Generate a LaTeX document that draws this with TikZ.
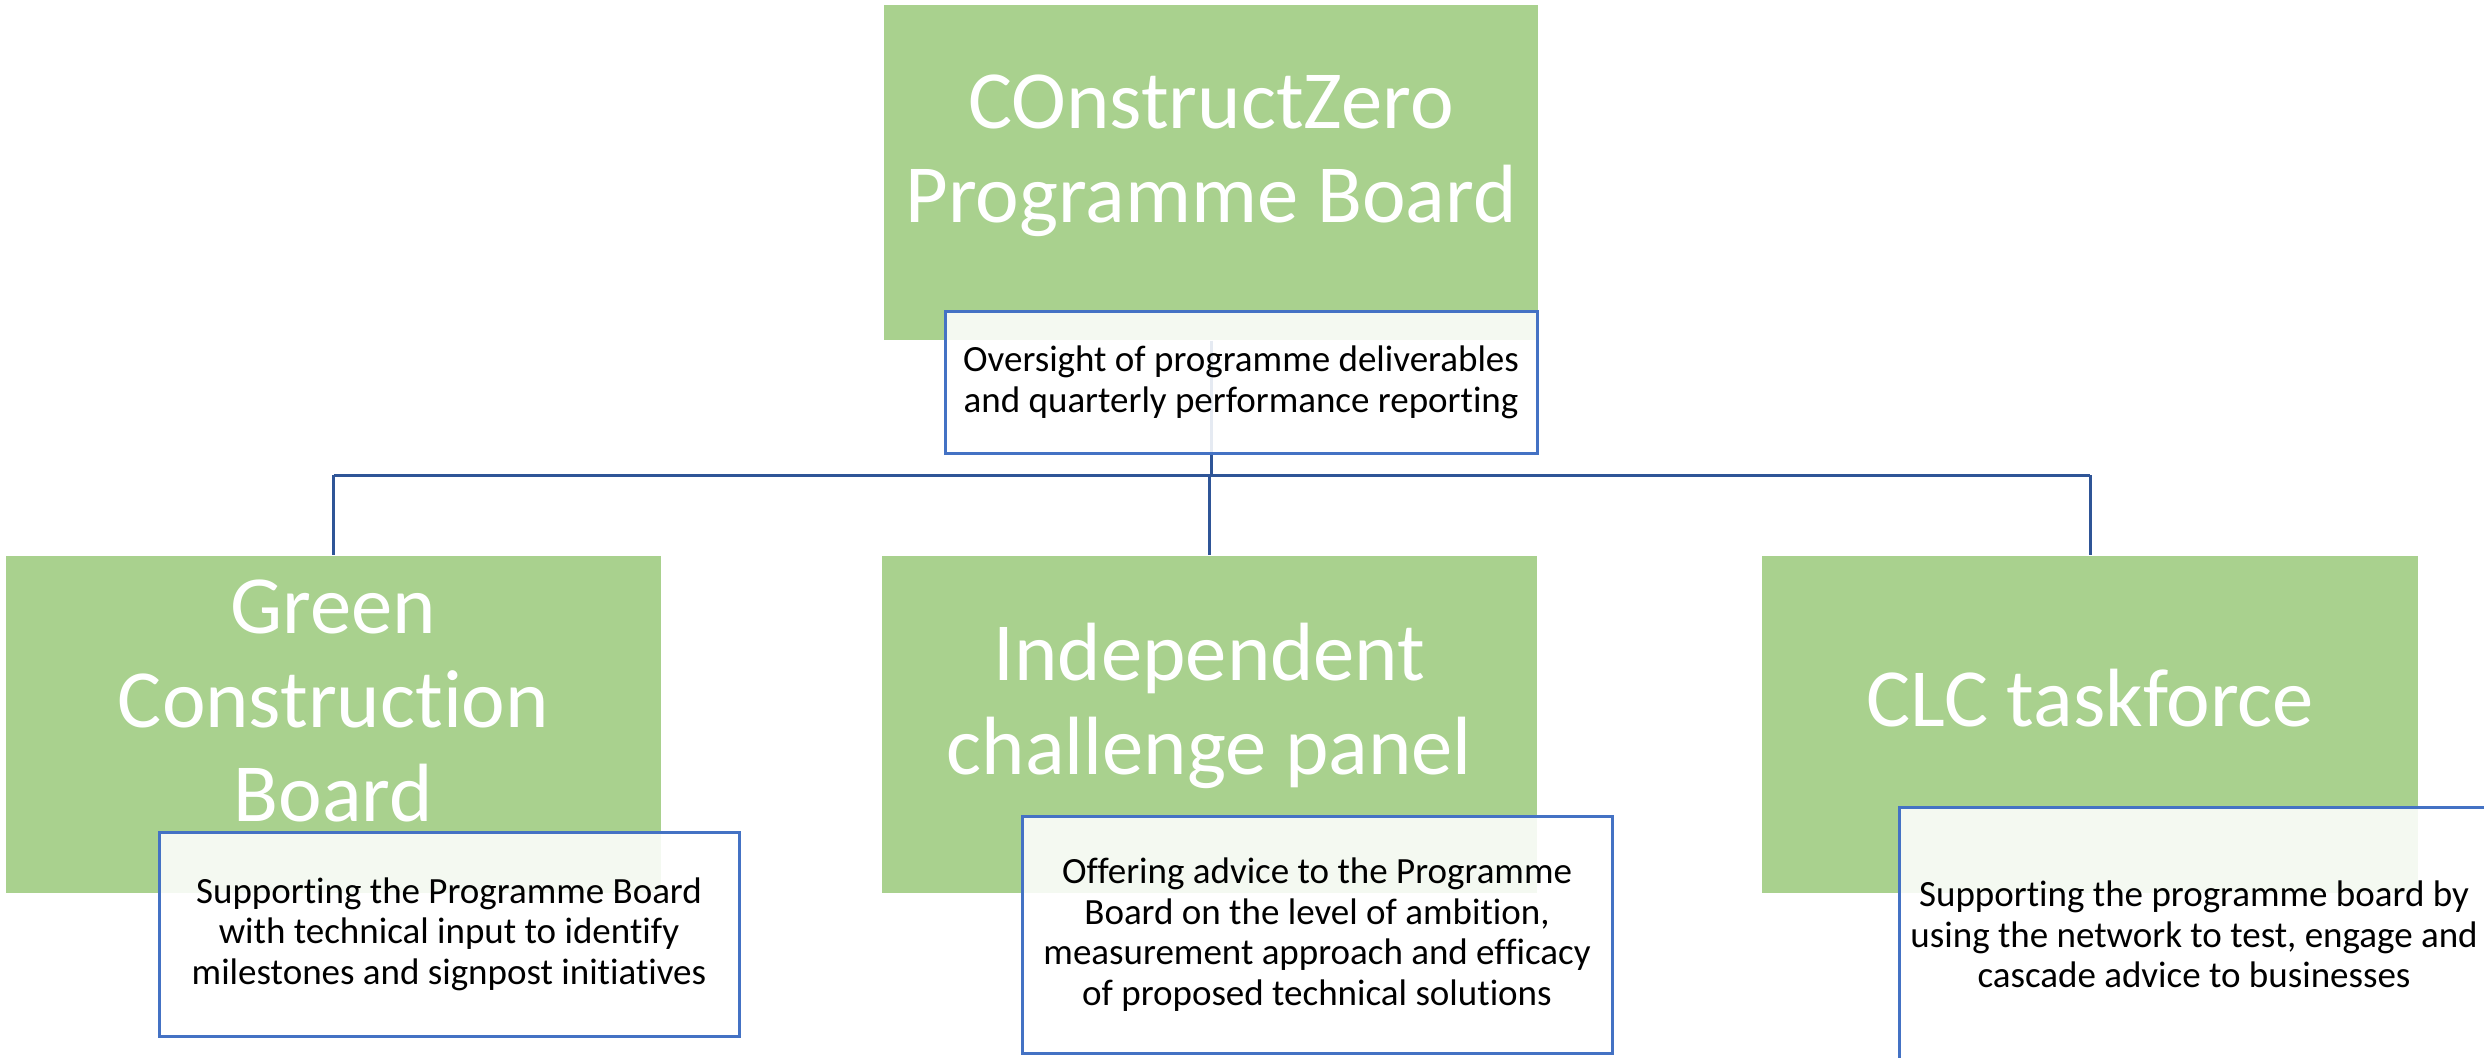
\documentclass[tikz,border=0pt]{standalone}
\usepackage{fontspec}
\setmainfont{Carlito}[Ligatures=NoCommon]
\definecolor{boxgreen}{HTML}{A9D18E}
\definecolor{connblue}{HTML}{2F5597}
\definecolor{edgeblue}{HTML}{4472C4}
\tikzset{
  greenbox/.style={fill=boxgreen, draw=none, inner sep=0pt},
  titletext/.style={text=white, inner sep=0pt, align=center,
    font=\fontsize{24.8pt}{28.2pt}\selectfont},
  notebox/.style={draw=edgeblue, line width=0.9pt, fill=white, fill opacity=0.88,
    text opacity=1, inner sep=0pt, align=center,
    font=\fontsize{11.1pt}{12.2pt}\selectfont},
  conn/.style={draw=connblue, line width=0.9pt},
}
\begin{document}
\begin{tikzpicture}[x=0.3pt, y=-0.3pt]
\useasboundingbox (0,0) rectangle (2484,1057);
% green boxes
\node[greenbox, minimum width=196.2pt, minimum height=100.5pt] (pb)  at (1211,172.5) {};
\node[greenbox, minimum width=196.5pt, minimum height=101.1pt] (gcb) at (333.5,724.5) {};
\node[greenbox, minimum width=196.5pt, minimum height=101.1pt] (icp) at (1209.5,724.5) {};
\node[greenbox, minimum width=196.8pt, minimum height=101.1pt] (clc) at (2090,724.5) {};
% titles
\node[titletext] (pbt)  at (1211,156)   {COnstructZero\\Programme Board};
\node[titletext] (gcbt) at (333.5,701)  {Green\\Construction\\Board};
\node[titletext] (icpt) at (1209.5,705.5) {Independent\\challenge panel};
\node[titletext] (clct) at (2090,698.5) {CLC taskforce};
% connectors
\coordinate (bus) at (1211,475);
\draw[conn] (pb.south) -- (pb.south |- bus);
\draw[conn] (gcb.north |- bus) -- (clc.north |- bus);
\draw[conn] (gcb.north |- bus) -- (gcb.north);
\draw[conn] (icp.north |- bus) -- (icp.north);
\draw[conn] (clc.north |- bus) -- (clc.north);
% note boxes
\node[notebox, minimum width=177.6pt, minimum height=42.6pt] (pbw) at (1241,382)
  {Oversight of programme deliverables\\and quarterly performance reporting};
\node[notebox, minimum width=174pt, minimum height=61.2pt] (gcbw) at (449,934)
  {Supporting the Programme Board\\with technical input to identify\\milestones and signpost initiatives};
\node[notebox, minimum width=177pt, minimum height=71.1pt] (icpw) at (1317,934.5)
  {Offering advice to the Programme\\Board on the level of ambition,\\measurement approach and efficacy\\of proposed technical solutions};
\node[notebox, minimum width=177pt, minimum height=76.5pt] (clcw) at (2194,934.5)
  {Supporting the programme board by\\using the network to test, engage and\\cascade advice to businesses};
\end{tikzpicture}
\end{document}
